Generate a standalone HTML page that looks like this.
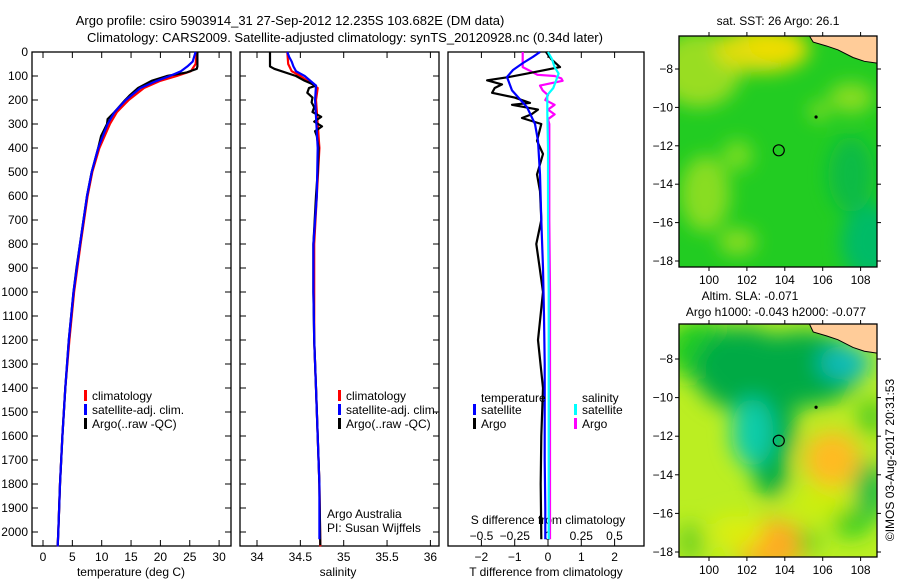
<!DOCTYPE html>
<html><head><meta charset="utf-8"><style>
html,body{margin:0;padding:0;background:#fff;}
svg{display:block;font-family:"Liberation Sans",sans-serif;}
text{font-size:12px;fill:#000;}
</style></head><body>
<svg id="fig" width="900" height="580" viewBox="0 0 900 580" xmlns="http://www.w3.org/2000/svg">
<defs>
<filter id="blur1" x="-50%" y="-50%" width="200%" height="200%"><feGaussianBlur stdDeviation="9"/></filter>
<filter id="blur2" x="-50%" y="-50%" width="200%" height="200%"><feGaussianBlur stdDeviation="11"/></filter>
<clipPath id="clipm1"><rect x="679" y="36" width="198" height="231"/></clipPath>
<clipPath id="clipm2"><rect x="679" y="324" width="198" height="233"/></clipPath>
</defs>
<text x="290" y="25" text-anchor="middle" style="font-size:13px">Argo profile: csiro 5903914_31 27-Sep-2012 12.235S 103.682E (DM data)</text>
<text x="345" y="42" text-anchor="middle" style="font-size:13px">Climatology: CARS2009. Satellite-adjusted climatology: synTS_20120928.nc (0.34d later)</text>
<g id="g"></g>
</svg>
<script>
// ---- data ----
var depthTicks=[0,100,200,300,400,500,600,700,800,900,1000,1100,1200,1300,1400,1500,1600,1700,1800,1900,2000];
var tempTicks=[0,5,10,15,20,25,30];
var salTicks=[34,34.5,35,35.5,36];
var tdTicks=[-2,-1,0,1,2];
var sdTicks=[-0.5,-0.25,0,0.25,0.5];
var tArgoDepth=[0,60,70,85,100,120,150,180,200,250,280,300,350,400,500,600,700,800,900,1000,1200,1400,1600,1800,2000,2055];
var tArgo=[26.3,26.3,26.2,24.5,21.1,18.5,16.2,14.8,14.0,12.2,11.0,10.9,9.9,9.4,8.3,7.5,6.9,6.3,5.7,5.2,4.4,3.8,3.3,2.9,2.6,2.5];
var tClimDepth=[0,50,80,100,120,150,200,250,300,400,500,600,800,1000,1200,1400,1600,1800,2000,2060];
var tClim=[26.2,26.0,25.2,22.8,20.0,17.2,14.6,12.6,11.4,9.6,8.4,7.6,6.4,5.3,4.5,3.8,3.3,2.9,2.6,2.5];
var tSatDepth=[0,40,60,80,100,120,150,200,250,300,400,500,600,800,1000,1200,1400,1600,1800,2000,2060];
var tSat=[26.0,25.5,24.6,23.5,21.6,19.4,16.6,14.1,12.2,11.0,9.4,8.3,7.5,6.3,5.2,4.4,3.8,3.3,2.9,2.6,2.5];
var sArgoDepth=[0,60,70,100,120,140,150,170,190,210,230,250,270,290,310,330,350,400,500,600,800,1000,1200,1400,1600,1800,2055];
var sArgo=[34.15,34.15,34.2,34.45,34.55,34.68,34.6,34.58,34.64,34.63,34.66,34.64,34.74,34.66,34.75,34.67,34.69,34.71,34.7,34.68,34.65,34.65,34.66,34.68,34.7,34.72,34.73];
var sClimDepth=[0,50,80,100,130,150,200,300,400,600,800,1000,1200,1400,1600,1800,2060];
var sClim=[34.35,34.36,34.4,34.5,34.62,34.7,34.68,34.7,34.72,34.69,34.66,34.66,34.66,34.68,34.7,34.72,34.73];
var sSatDepth=[0,20,40,60,80,100,140,200,400,600,800,1000,1200,1400,1600,1800,2030];
var sSat=[34.35,34.37,34.4,34.42,34.45,34.55,34.68,34.67,34.7,34.69,34.65,34.65,34.66,34.68,34.7,34.72,34.72];
var dTSatDepth=[0,20,46,75,104,160,230,300,370,510,700,900,1100,1300,1500,1700,1900,2030];
var dTSat=[-0.24,-0.45,-0.75,-1.05,-1.23,-1.08,-0.63,-0.39,-0.3,-0.24,-0.2,-0.15,-0.12,-0.1,-0.1,-0.1,-0.08,-0.08];
var dTArgoDepth=[0,30,63,90,105,118,135,150,170,190,212,220,240,260,275,300,370,425,510,580,700,800,900,1000,1200,1400,1600,1800,2030];
var dTArgo=[-0.06,0.1,0.36,-0.63,-1.2,-1.83,-1.38,-1.6,-1.68,-1.0,-0.54,-1.08,-0.3,-0.5,-0.78,-0.2,-0.33,-0.15,-0.33,-0.24,-0.2,-0.35,-0.25,-0.15,-0.3,-0.15,-0.2,-0.22,-0.2];
var dSSatDepth=[0,30,63,90,120,150,180,250,400,700,1000,1500,2030];
var dSSat=[0,0.03,0.05,0.08,0.06,0.04,-0.005,-0.005,0,0,0.005,0.005,0.005];
var dSArgoDepth=[0,30,63,80,95,100,110,120,140,160,180,200,220,240,260,280,300,400,700,1000,1500,2030];
var dSArgo=[-0.19,-0.19,-0.19,-0.13,-0.08,0.05,0.1,0.11,-0.06,-0.04,0,-0.02,0.05,0,0.05,0,0.01,0.01,0.01,0.015,0.015,0.015];
var lonTicks=[100,102,104,106,108];
var latTicks=[-8,-10,-12,-14,-16,-18];
var argoLon=103.682, argoLat=-12.235;

// ---- axes ----
var top0=52, pxPer100=24, bottom=546;
function yD(d){return top0+d*pxPer100/100;}
function xT(t){return 43+t*5.87;}
function xS(s){return 257+(s-34)*86.7;}
function xDT(t){return 548+t*33.3;}
function xDS(s){return 548+s*133;}
function xLon(l){return 709+(l-100)*18.95;}
function yLat1(l){return 69+(-8-l)*19.2;}
function yLat2(l){return 359+(-8-l)*19.3;}

var NS='http://www.w3.org/2000/svg', G=document.getElementById('g');
function el(tag,attrs,parent){var e=document.createElementNS(NS,tag);for(var k in attrs)e.setAttribute(k,attrs[k]);(parent||G).appendChild(e);return e;}
function txt(x,y,s,anchor,name,size){var t=el('text',{x:x,y:y,'text-anchor':anchor||'start'});t.textContent=s;


if(size)t.style.fontSize=size+'px';return t;}

var panels=[{x0:32,x1:231,name:'temperature-panel'},{x0:240,x1:439,name:'salinity-panel'},{x0:448,x1:644,name:'difference-panel'}];
panels.forEach(function(p,i){
  var r=el('rect',{x:p.x0,y:top0,width:p.x1-p.x0,height:bottom-top0,fill:'none',stroke:'#000','stroke-width':1.3});
  
  
  if(i<2){depthTicks.forEach(function(d){
    var y=yD(d);
    el('line',{x1:p.x0,x2:p.x0+6,y1:y,y2:y,stroke:'#000'});
    el('line',{x1:p.x1-6,x2:p.x1,y1:y,y2:y,stroke:'#000'});
  });}
});
depthTicks.forEach(function(d){txt(28,yD(d)+4,String(d),'end','depth-tick-label');});
tempTicks.forEach(function(t){var x=xT(t);el('line',{x1:x,x2:x,y1:bottom,y2:bottom-6,stroke:'#000'});el('line',{x1:x,x2:x,y1:top0,y2:top0+6,stroke:'#000'});txt(x,561,String(t),'middle','temperature-tick-label');});
salTicks.forEach(function(s){var x=xS(s);el('line',{x1:x,x2:x,y1:bottom,y2:bottom-6,stroke:'#000'});el('line',{x1:x,x2:x,y1:top0,y2:top0+6,stroke:'#000'});txt(x,561,String(s),'middle','salinity-tick-label');});
tdTicks.forEach(function(t){var x=xDT(t);el('line',{x1:x,x2:x,y1:bottom,y2:bottom-6,stroke:'#000'});el('line',{x1:x,x2:x,y1:top0,y2:top0+6,stroke:'#000'});txt(x,561,t<0?'\u2212'+(-t):String(t),'middle','t-diff-tick-label');});
sdTicks.forEach(function(s){var x=xDS(s);txt(x,540,s<0?'\u2212'+(-s):String(s),'middle','s-diff-tick-label');});
txt(131,576,'temperature (deg C)','middle','temperature-axis-title');
txt(338,576,'salinity','middle','salinity-axis-title');
txt(546,576,'T difference from climatology','middle','t-diff-axis-title');
txt(548,524,'S difference from climatology','middle','s-diff-axis-title');

function line(xs,ds,fx,color,name,w){
  var pts=xs.map(function(v,i){return fx(v).toFixed(1)+','+yD(ds[i]).toFixed(1);}).join(' ');
  var l=el('polyline',{points:pts,fill:'none',stroke:color,'stroke-width':w||2.2,'stroke-linejoin':'round'});
  
  
}
line(tClim,tClimDepth,xT,'#ff0000','temp-climatology-line');
line(tArgo,tArgoDepth,xT,'#000','temp-argo-line');
line(tSat,tSatDepth,xT,'#0000ff','temp-satellite-line');
line(sClim,sClimDepth,xS,'#ff0000','sal-climatology-line');
line(sArgo,sArgoDepth,xS,'#000','sal-argo-line');
line(sSat,sSatDepth,xS,'#0000ff','sal-satellite-line');
line(dSArgo,dSArgoDepth,xDS,'#ff00ff','s-diff-argo-line');
line(dTArgo,dTArgoDepth,xDT,'#000','t-diff-argo-line');
line(dTSat,dTSatDepth,xDT,'#0000ff','t-diff-satellite-line');
line(dSSat,dSSatDepth,xDS,'#00ffff','s-diff-satellite-line');

function leg(x,y,color,label,name){
  el('rect',{x:x,y:y-8,width:3,height:11,fill:color});
  txt(x+8,y+2,label,'start',name);
}
[[84,'#ff0000','climatology'],[84,'#0000ff','satellite-adj. clim.'],[84,'#000','Argo(..raw -QC)']].forEach(function(a,i){leg(a[0],398+i*14,a[1],a[2],'temp-legend-entry');});
[[338,'#ff0000','climatology'],[338,'#0000ff','satellite-adj. clim.'],[338,'#000','Argo(..raw -QC)']].forEach(function(a,i){leg(a[0],398+i*14,a[1],a[2],'sal-legend-entry');});
txt(481,402,'temperature','start','diff-legend-temperature-header');
txt(582,402,'salinity','start','diff-legend-salinity-header');
leg(473,412,'#0000ff','satellite','diff-legend-t-satellite');
leg(473,426,'#000','Argo','diff-legend-t-argo');
leg(574,412,'#00ffff','satellite','diff-legend-s-satellite');
leg(574,426,'#ff00ff','Argo','diff-legend-s-argo');
txt(327,518,'Argo Australia','start','argo-australia-label');
txt(327,532,'PI: Susan Wijffels','start','pi-label');

// ---- maps ----
function map(y0,h,clip,yLat,blobs,base,landName,mapName,blurId){
  var g=el('g',{'clip-path':'url(#'+clip+')'});
  
  
  el('rect',{x:679,y:y0,width:198,height:h,fill:base},g);
  var bg=el('g',{filter:'url(#'+blurId+')'},g);
  blobs.forEach(function(b){el('ellipse',{cx:xLon(b[0]),cy:yLat(b[1]),rx:b[2]*19,ry:b[3]*19,fill:b[4]},bg);});
  var land=el('path',{d:'M'+xLon(105.3)+','+y0+' L'+xLon(105.5)+','+(yLat(-6.6))+' L'+xLon(106.2)+','+yLat(-6.8)+' L'+xLon(106.8)+','+yLat(-7.0)+' L'+xLon(107.6)+','+yLat(-7.4)+' L'+xLon(108.2)+','+yLat(-7.6)+' L'+xLon(108.9)+','+yLat(-7.7)+' L877,'+y0+' Z',fill:'#ffcc99',stroke:'#000','stroke-width':1},g);
  
  
  var fr=el('rect',{x:679,y:y0,width:198,height:h,fill:'none',stroke:'#000','stroke-width':1.3});
  
  
  var m=el('circle',{cx:xLon(argoLon),cy:yLat(argoLat),r:5.5,fill:'none',stroke:'#000','stroke-width':1.2});
  
  
  el('circle',{cx:xLon(105.65),cy:yLat(-10.5),r:1.6,fill:'#000'});
  lonTicks.forEach(function(l){var x=xLon(l);el('line',{x1:x,x2:x,y1:y0,y2:y0-4,stroke:'#000'});el('line',{x1:x,x2:x,y1:y0+h,y2:y0+h+4,stroke:'#000'});});
  latTicks.forEach(function(l){var y=yLat(l);el('line',{x1:675,x2:679,y1:y,y2:y,stroke:'#000'});el('line',{x1:877,x2:881,y1:y,y2:y,stroke:'#000'});txt(673,y+4,'\u2212'+(-l),'end','lat-tick-label');});
  lonTicks.forEach(function(l){txt(xLon(l),y0+h+17,String(l),'middle','lon-tick-label');});
}
map(36,231,'clipm1',yLat1,[
 [99.5,-8,2.2,2,'#99dd22'],[102.8,-7,2.5,1.2,'#dddd11'],[103.5,-6.7,1.5,0.8,'#eedd00'],
 [99.8,-14.5,1.3,2,'#88dd22'],[101.5,-12.5,0.8,0.8,'#77dd22'],[107.5,-9.5,1.2,0.8,'#88dd22'],
 [108.5,-17,1.5,2,'#00bb66'],[107.5,-13.5,1.2,2,'#11bb44'],[105.8,-10.2,0.5,0.5,'#88dd22'],[101.5,-17,1,0.7,'#88dd22']
],'#22cc22','sst-map-land','sst-map','blur1');
map(324,233,'clipm2',yLat2,[
 [99.5,-7.5,1.8,1.6,'#22cc22'],
 [101.8,-8.5,2.6,2.2,'#00aa44'],[105,-8.5,3,2,'#00aa44'],[103,-11.5,1.6,2.5,'#00aa44'],[103.3,-14,0.9,1.2,'#00aa44'],
 [102.3,-11.8,1.1,1.8,'#11ccaa'],[107.2,-8.2,1.4,0.9,'#11bbbb'],
 [108.6,-11,0.8,1,'#55cc22'],
 [106.5,-13.2,1.5,1.5,'#ffbb22'],[106,-15.5,1.8,0.9,'#ccee11'],
 [103.3,-17.6,2.0,1.3,'#ffaa22'],[101.5,-17,1.4,0.9,'#ddee11'],[108.5,-14.8,0.8,1.6,'#00bb44'],[107.5,-16.5,1,0.7,'#22cc22'],[105.2,-17.5,0.6,0.6,'#55cc22'],[99,-17.5,0.6,1,'#66cc22']
],'#bbee22','sla-map-land','sla-map','blur2');
txt(778,25,'sat. SST: 26 Argo: 26.1','middle','sst-map-title');
txt(750,300,'Altim. SLA: -0.071','middle','sla-map-title');
txt(776,316,'Argo h1000: -0.043 h2000: -0.077','middle','sla-argo-height-label');
var c=txt(0,0,'\u00a9IMOS 03-Aug-2017 20:31:53','middle','timestamp-label');
c.setAttribute('transform','translate(894,460) rotate(-90)');
</script>
</body></html>
